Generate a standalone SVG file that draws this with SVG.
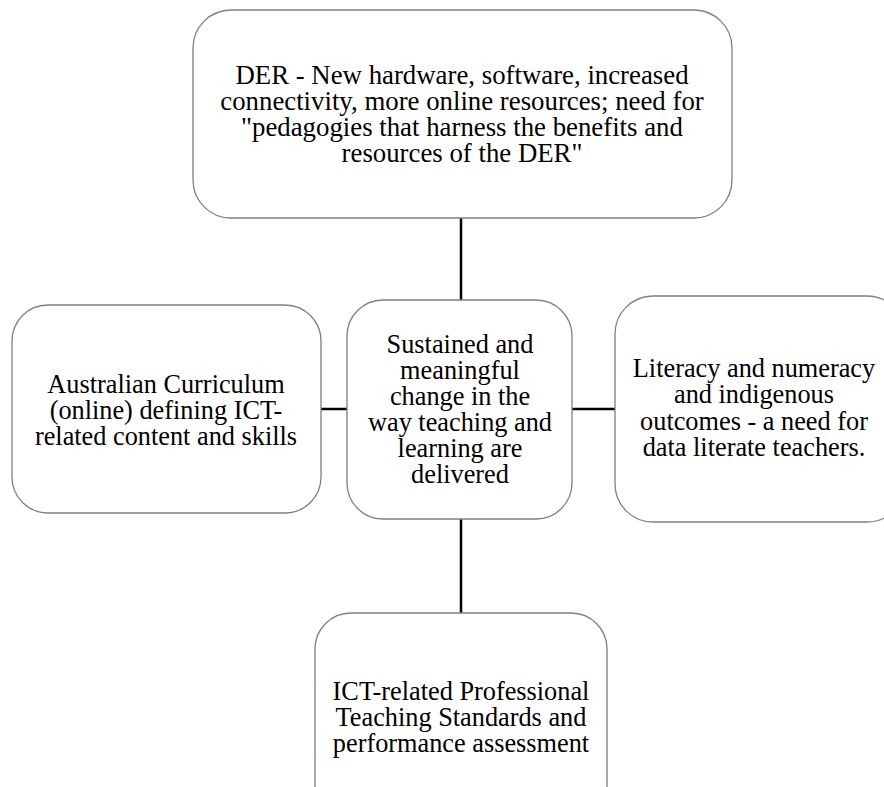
<svg xmlns="http://www.w3.org/2000/svg" width="884" height="787" viewBox="0 0 884 787">
<rect width="884" height="787" fill="#fff"/>
<g id="connectors" stroke="#000" stroke-width="2.5" fill="none">
<line x1="461" y1="218" x2="461" y2="300"/>
<line x1="461" y1="519" x2="461" y2="613"/>
<line x1="321" y1="409" x2="347" y2="409"/>
<line x1="572" y1="409" x2="615" y2="409"/>
</g>
<g id="top">
<rect x="193" y="10" width="539" height="208" rx="38" fill="#fff" stroke="#808080" stroke-width="1.3"/>
<text font-family="Liberation Serif" font-size="26.8" text-anchor="middle" x="462" y="84">DER - New hardware, software, increased</text>
<text font-family="Liberation Serif" font-size="26.8" text-anchor="middle" x="462" y="110">connectivity, more online resources; need for</text>
<text font-family="Liberation Serif" font-size="26.8" text-anchor="middle" x="462" y="136">"pedagogies that harness the benefits and</text>
<text font-family="Liberation Serif" font-size="26.8" text-anchor="middle" x="462" y="162">resources of the DER"</text>
</g>
<g id="left">
<rect x="12" y="305" width="309" height="208" rx="36" fill="#fff" stroke="#808080" stroke-width="1.3"/>
<text font-family="Liberation Serif" font-size="26.3" text-anchor="middle" x="166" y="393">Australian Curriculum</text>
<text font-family="Liberation Serif" font-size="26.3" text-anchor="middle" x="166" y="419">(online) defining ICT-</text>
<text font-family="Liberation Serif" font-size="26.3" text-anchor="middle" x="166" y="445">related content and skills</text>
</g>
<g id="center">
<rect x="347" y="300" width="225" height="219" rx="36" fill="#fff" stroke="#808080" stroke-width="1.3"/>
<text font-family="Liberation Serif" font-size="26.3" text-anchor="middle" x="460" y="353">Sustained and</text>
<text font-family="Liberation Serif" font-size="26.3" text-anchor="middle" x="460" y="379">meaningful</text>
<text font-family="Liberation Serif" font-size="26.3" text-anchor="middle" x="460" y="405">change in the</text>
<text font-family="Liberation Serif" font-size="26.3" text-anchor="middle" x="460" y="431">way teaching and</text>
<text font-family="Liberation Serif" font-size="26.3" text-anchor="middle" x="460" y="457">learning are</text>
<text font-family="Liberation Serif" font-size="26.3" text-anchor="middle" x="460" y="483">delivered</text>
</g>
<g id="right">
<rect x="615" y="296" width="290" height="226" rx="38" fill="#fff" stroke="#808080" stroke-width="1.3"/>
<text font-family="Liberation Serif" font-size="26.3" text-anchor="middle" x="754" y="377">Literacy and numeracy</text>
<text font-family="Liberation Serif" font-size="26.3" text-anchor="middle" x="754" y="403">and indigenous</text>
<text font-family="Liberation Serif" font-size="26.3" text-anchor="middle" x="754" y="430">outcomes - a need for</text>
<text font-family="Liberation Serif" font-size="26.3" text-anchor="middle" x="754" y="456">data literate teachers.</text>
</g>
<g id="bottom">
<rect x="315" y="613" width="292" height="208" rx="36" fill="#fff" stroke="#808080" stroke-width="1.3"/>
<text font-family="Liberation Serif" font-size="26.3" text-anchor="middle" x="461" y="700">ICT-related Professional</text>
<text font-family="Liberation Serif" font-size="26.3" text-anchor="middle" x="461" y="726">Teaching Standards and</text>
<text font-family="Liberation Serif" font-size="26.3" text-anchor="middle" x="461" y="752">performance assessment</text>
</g>
</svg>
